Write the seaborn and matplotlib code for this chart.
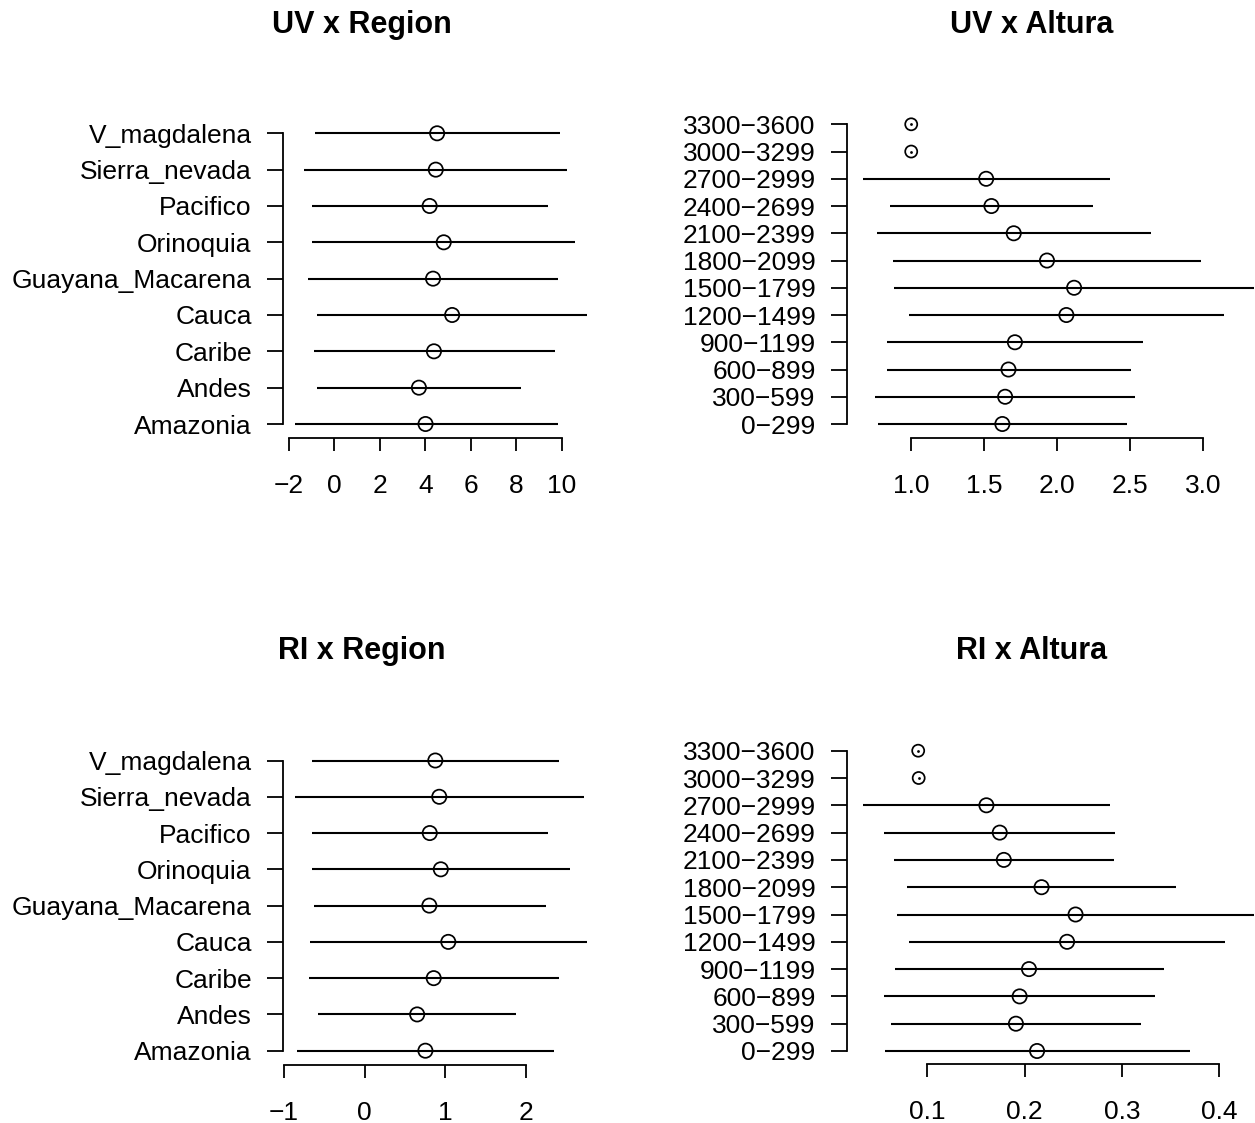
import numpy as np
import pandas as pd
import matplotlib
matplotlib.use("Agg")
import matplotlib.pyplot as plt
import seaborn as sns

# ── Data ─────────────────────────────────────────────────────────────────────
regiones = ["Amazonia", "Andes", "Caribe", "Cauca", "Guayana_Macarena",
            "Orinoquia", "Pacifico", "Sierra_nevada", "V_magdalena"]
alturas = ["0\u2212299", "300\u2212599", "600\u2212899", "900\u22121199",
           "1200\u22121499", "1500\u22121799", "1800\u22122099", "2100\u22122399",
           "2400\u22122699", "2700\u22122999", "3000\u22123299", "3300\u22123600"]

uv_reg_mean = [4.01, 3.72, 4.38, 5.18, 4.34, 4.81, 4.19, 4.46, 4.52]
uv_reg_low = [-1.74, -0.75, -0.91, -0.75, -1.17, -0.98, -0.98, -1.31, -0.84]
uv_reg_high = [9.82, 8.19, 9.70, 11.12, 9.84, 10.60, 9.39, 10.22, 9.91]

uv_alt_mean = [1.625, 1.644, 1.667, 1.711, 2.064, 2.117, 1.931, 1.703, 1.550, 1.514, 1.0, 1.0]
uv_alt_low = [0.769, 0.753, 0.831, 0.831, 0.983, 0.881, 0.875, 0.764, 0.856, 0.667, 1.0, 1.0]
uv_alt_high = [2.483, 2.536, 2.508, 2.589, 3.147, 3.353, 2.989, 2.644, 2.247, 2.361, 1.0, 1.0]

ri_reg_mean = [0.752, 0.650, 0.855, 1.036, 0.801, 0.943, 0.806, 0.924, 0.875]
ri_reg_low = [-0.838, -0.574, -0.687, -0.677, -0.633, -0.648, -0.657, -0.868, -0.648]
ri_reg_high = [2.348, 1.878, 2.407, 2.759, 2.245, 2.544, 2.275, 2.720, 2.407]

ri_alt_mean = [0.2128, 0.1911, 0.1949, 0.2045, 0.2436, 0.2523, 0.2174, 0.1787,
               0.1745, 0.1608, 0.0913, 0.0908]
ri_alt_low = [0.0563, 0.0630, 0.0555, 0.0667, 0.0817, 0.0688, 0.0788, 0.0655,
              0.0559, 0.0338, 0.0913, 0.0908]
ri_alt_high = [0.3700, 0.3193, 0.3343, 0.3430, 0.4059, 0.4358, 0.3559, 0.2918,
               0.2927, 0.2877, 0.0913, 0.0908]

uv_reg_ticks = [-2, 0, 2, 4, 6, 8, 10]
uv_alt_ticks = [1.0, 1.5, 2.0, 2.5, 3.0]
ri_reg_ticks = [-1, 0, 1, 2]
ri_alt_ticks = [0.1, 0.2, 0.3, 0.4]

# ── Style ────────────────────────────────────────────────────────────────────
sns.set_theme(style="white")
plt.rcParams["font.family"] = ["Liberation Sans", "DejaVu Sans"]
plt.rcParams["text.color"] = "black"
plt.rcParams["xtick.color"] = "black"
plt.rcParams["ytick.color"] = "black"
plt.rcParams["axes.labelcolor"] = "black"

W, H = 1255, 1123
fig = plt.figure(figsize=(W / 100, H / 100), dpi=100)
fig.patch.set_facecolor("white")


def panel(box, labels, mean, low, high, ticks, fmt, title, title_xy):
    left_px, right_px, row_top, row_bot, axis_px = box
    n = len(labels)
    s = (row_bot - row_top) / (n - 1)
    pad = (axis_px - row_bot) / s
    top_px = row_top - pad * s
    ax = fig.add_axes([left_px / W, 1 - axis_px / H,
                       (right_px - left_px) / W, (axis_px - top_px) / H])

    df = pd.DataFrame({"label": labels, "pos": np.arange(1, n + 1),
                       "mean": mean, "low": low, "high": high})
    df["single"] = df["low"] == df["high"]

    ax.hlines(df["pos"], df["low"], df["high"], color="black", lw=1.5, zorder=2)
    sns.scatterplot(data=df[~df["single"]], x="mean", y="pos", ax=ax, marker="o",
                    s=105, facecolor="none", edgecolor="black", linewidth=1.25,
                    zorder=3, legend=False)
    sns.scatterplot(data=df[df["single"]], x="mean", y="pos", ax=ax, marker="o",
                    s=75, facecolor="none", edgecolor="black", linewidth=1.25,
                    zorder=3, legend=False)
    sns.scatterplot(data=df[df["single"]], x="mean", y="pos", ax=ax, marker="o",
                    s=4, color="black", linewidth=0, zorder=4, legend=False)

    lo, hi = min(low), max(high)
    ext = 0.04 * (hi - lo)
    ax.set_xlim(lo - ext, hi + ext)
    ax.set_ylim(1 - pad, n + pad)

    ax.set_yticks(df["pos"])
    ax.set_yticklabels(labels)
    ax.set_xticks(ticks)
    ax.set_xticklabels([fmt.format(t).replace("-", "\u2212") for t in ticks])
    ax.set_xlabel("")
    ax.set_ylabel("")

    for side in ["top", "right"]:
        ax.spines[side].set_visible(False)
    ax.spines["left"].set_bounds(1, n)
    ax.spines["bottom"].set_bounds(ticks[0], ticks[-1])
    for side in ["left", "bottom"]:
        ax.spines[side].set_linewidth(1.3)
        ax.spines[side].set_color("black")
    ax.tick_params(axis="y", direction="out", length=11.5, width=1.3,
                   color="black", labelcolor="black", pad=11, labelsize=19, left=True)
    ax.tick_params(axis="x", direction="out", length=9.7, width=1.3,
                   color="black", labelcolor="black", pad=16, labelsize=19, bottom=True)
    ax.set_facecolor("none")
    ax.grid(False)

    fig.text(title_xy[0] / W, 1 - title_xy[1] / H, title, ha="center",
             va="center", fontsize=22, fontweight="bold", color="black")
    return ax


panel((283, 599, 133.3, 424, 438), regiones, uv_reg_mean, uv_reg_low, uv_reg_high,
      uv_reg_ticks, "{:g}", "UV x Region", (362, 25))
panel((847, 1270, 124.3, 424, 438), alturas, uv_alt_mean, uv_alt_low, uv_alt_high,
      uv_alt_ticks, "{:.1f}", "UV x Altura", (1032, 25))
panel((283, 599, 760.5, 1050.7, 1065), regiones, ri_reg_mean, ri_reg_low, ri_reg_high,
      ri_reg_ticks, "{:g}", "RI x Region", (362, 651))
panel((847, 1270, 750.7, 1051, 1064), alturas, ri_alt_mean, ri_alt_low, ri_alt_high,
      ri_alt_ticks, "{:.1f}", "RI x Altura", (1032, 651))

fig.savefig("out.png", dpi=100, facecolor="white")
